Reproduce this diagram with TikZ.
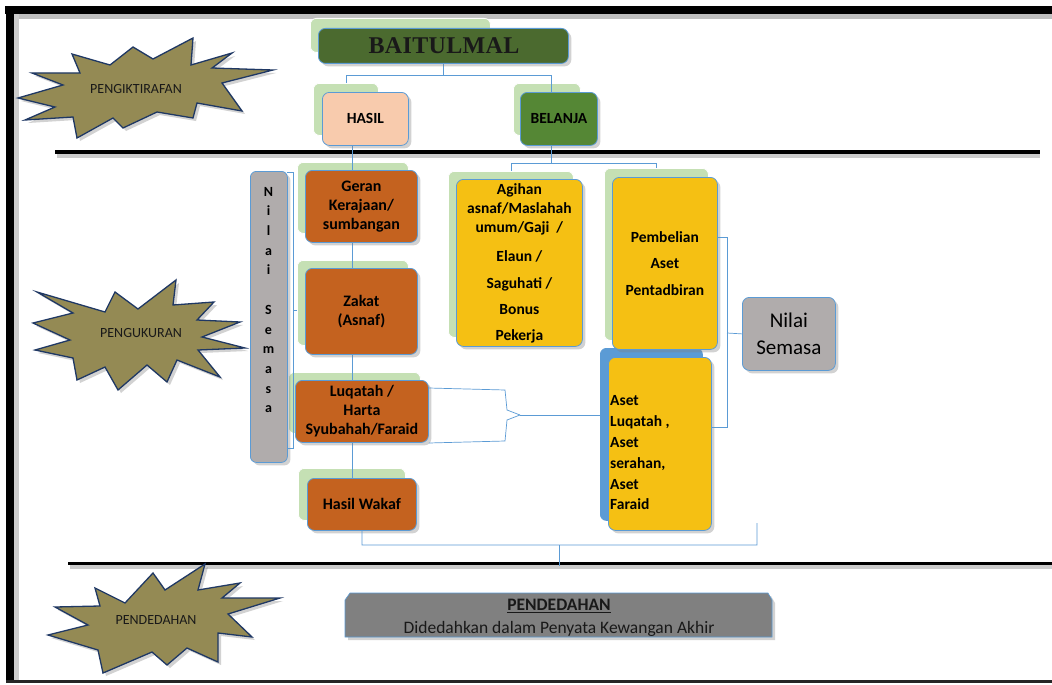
\documentclass[tikz,border=0pt]{standalone}
\usepackage{fontspec}
\setmainfont{Carlito}
\newfontfamily\baitfont[LetterSpace=1.5]{Liberation Serif}
\usetikzlibrary{shadows,calc}
\definecolor{bordblue}{HTML}{5B9BD5}
\definecolor{lgreen}{HTML}{C5E0B4}
\definecolor{orng}{HTML}{C4621F}
\definecolor{yell}{HTML}{F5C013}
\definecolor{greyb}{HTML}{B0ACAC}
\definecolor{darkgr}{HTML}{4B6A2F}
\definecolor{belgr}{HTML}{558735}
\definecolor{peach}{HTML}{F8CBAD}
\definecolor{starfill}{HTML}{948A54}
\definecolor{starline}{HTML}{1F3864}
\definecolor{pendgrey}{HTML}{808080}
\begin{document}
\begin{tikzpicture}[x=1pt,y=-1pt,
  shad/.style={drop shadow={shadow xshift=3pt,shadow yshift=-3pt,opacity=0.35}},
  gbox/.style={fill=lgreen,draw=white,line width=0.8pt,rounded corners=6pt,anchor=north west,inner sep=0pt},
  mbox/.style={draw=bordblue,line width=0.8pt,rounded corners=7pt,anchor=north west,inner sep=0pt,align=center,shad,
     font=\bfseries\fontsize{15.5}{19}\selectfont},
  obox/.style={mbox,fill=orng,font=\bfseries\fontsize{16}{19}\selectfont},
  ybox/.style={mbox,fill=yell},
  conn/.style={draw=bordblue,line width=0.7pt},
  burst/.style={fill=starfill,draw=starline,line width=1.3pt,line join=miter,shad},
  stext/.style={font=\fontsize{14}{15}\selectfont,inner sep=0pt,text=black!90},
  hline/.style={line width=3.5pt,draw=black}
]
\useasboundingbox (0,0) rectangle (1052,685);
\fill[white] (0,0) rectangle (1052,685);

% frame
\fill[black!25] (14,14) rectangle (1052,19);
\fill[black] (5,6) rectangle (1052,14);
\fill[black] (6,6) rectangle (14,683);
\fill[black!20] (14,14) rectangle (19,680);
\fill[black!85] (6,680) rectangle (1052,683);

% separator lines
\draw[line width=4pt,black!20] (57,156) -- (1040,156);
\draw[hline] (55,152) -- (1040,152);
\draw[line width=4pt,black!20] (70,567) -- (1052,567);
\draw[hline,line width=3pt] (68,563) -- (1052,563);

% stars
\draw[burst] (18,98) -- (63,85) -- (32,73) -- (80,73) -- (72,54) -- (110,65) -- (133,47) -- (153,59)
  -- (193,38) -- (191,65) -- (232,53) -- (212,68) -- (273,70) -- (222,83) -- (242,111) -- (197,103)
  -- (193,118) -- (157,112) -- (123,128) -- (113,118) -- (77,138) -- (73,117) -- (25,120) -- (55,107) -- cycle;
\node[stext] (s1) at (136,89) {PENGIKTIRAFAN};

\draw[burst] (37,292) -- (105,312) -- (115,292) -- (138,309) -- (176,280) -- (173,305) -- (214,302)
  -- (197,320) -- (240,322) -- (202,337) -- (245,348) -- (198,350) -- (220,377) -- (177,360) -- (167,382)
  -- (147,365) -- (118,390) -- (105,367) -- (77,380) -- (73,358) -- (35,350) -- (70,340) -- (33,323) -- (73,313) -- cycle;
\node[stext] (s2) at (141,333) {PENGUKURAN};

\draw[burst] (55,607) -- (100,606) -- (95,588) -- (125,603) -- (153,573) -- (165,590) -- (205,564) -- (198,590)
  -- (240,583) -- (222,598) -- (280,598) -- (228,614) -- (252,637) -- (218,633) -- (218,662) -- (187,648)
  -- (167,665) -- (152,652) -- (103,673) -- (98,650) -- (48,635) -- (88,625) -- cycle;
\node[stext] (s3) at (156,620) {PENDEDAHAN};

% back (green) boxes
\node[gbox,minimum width=180,minimum height=34] (baitS) at (310,18) {};
\node[gbox,minimum width=65,minimum height=52] (hasilS) at (313,83) {};
\node[gbox,minimum width=67,minimum height=52] (belS) at (513,83) {};
\node[gbox,minimum width=111,minimum height=71] (geranS) at (297,162) {};
\node[gbox,minimum width=111,minimum height=85] (zakatS) at (297,260) {};
\node[gbox,minimum width=132,minimum height=61] (luqS) at (288,372) {};
\node[gbox,minimum width=107,minimum height=52] (wakafS) at (298,468) {};
\node[gbox,minimum width=125,minimum height=166] (agihS) at (448,171) {};
\node[gbox,minimum width=104,minimum height=172] (pembS) at (604,168) {};
\node[gbox,fill=bordblue,draw=bordblue,minimum width=102,minimum height=172] (asetS) at (600,348) {};

% connectors
\coordinate (bj) at (443,75);
\draw[conn] (443,63) -- (bj);
\draw[conn] (bj) -| (hasilS.north);
\draw[conn] (bj) -| (551,92);
\draw[conn] (352,145) -- (352,478);
\draw[conn] (551,145) -- (551,163) coordinate (bk);
\draw[conn] (bk) -| (agihS.north);
\draw[conn] (bk) -| (pembS.north);

% main boxes
\node[mbox,fill=darkgr,minimum width=250,minimum height=35] (bait) at (318,28) {};
\node[text=black!90,font=\baitfont\bfseries\fontsize{24}{24}\selectfont] (baittext) at (444,46) {BAITULMAL};
\node[mbox,fill=peach,minimum width=86,minimum height=53] (hasil) at (322,92) {HASIL};
\node[mbox,fill=belgr,minimum width=77,minimum height=53] (bel) at (520,92) {BELANJA};

\node[obox,minimum width=112,minimum height=72] (geran) at (305,170) {Geran\\Kerajaan/\\sumbangan};
\node[obox,minimum width=112,minimum height=86] (zakat) at (305,268) {Zakat\\(Asnaf)};
\node[obox,minimum width=133,minimum height=62] (luq) at (295,380) {Luqatah /\\Harta\\Syubahah/Faraid};
\node[obox,minimum width=109,minimum height=52] (wakaf) at (307,478) {Hasil Wakaf};

\node[ybox,minimum width=126,minimum height=167] (agih) at (456,179)
  {Agihan\\asnaf/Maslahah\\umum/Gaji~~/\\[10pt]Elaun /\\[8pt]Saguhati /\\[7pt]Bonus\\[7pt]Pekerja};
\node[ybox,minimum width=105,minimum height=172,font=\bfseries\fontsize{15.5}{26.5}\selectfont] (pemb) at (612,177) {Pembelian\\Aset\\Pentadbiran};
\node[ybox,minimum width=103,minimum height=173] (aset) at (608,357) {};
\node[anchor=west,align=left,inner sep=0pt,font=\bfseries\fontsize{15.5}{20.8}\selectfont] (asettext) at (610,453)
  {Aset\\Luqatah ,\\Aset\\serahan,\\Aset\\Faraid};

% Nilai Semasa (vertical)
\node[mbox,fill=greyb,minimum width=37,minimum height=291,rounded corners=6pt] (nv) at (250,171) {};
\node[align=center,inner sep=0pt,font=\bfseries\fontsize{14}{19.7}\selectfont] (nvtext) at (268.5,300)
  {N\\i\\l\\a\\i\\~\\S\\e\\m\\a\\s\\a};
\draw[conn] (287,172) -- (293,172) -- (293,448) -- (287,448);
\draw[conn] (293,310) -- (zakatS.west |- 0,310);

% Nilai Semasa (box)
\node[mbox,fill=greyb,minimum width=93,minimum height=73,font=\fontsize{21}{27}\selectfont] (nb) at (742,297) {Nilai\\Semasa};
\draw[conn] (pemb.east |- 0,237) -- (727,237) -- (727,427) -- (aset.east |- 0,427);
\draw[conn] (727,333) -- (nb.west);

% Luqatah brace
\coordinate (lq) at (520,415);
\draw[conn] (luq.east |- 0,388) -- (505,390) -- (507,410) -- (lq);
\draw[conn] (luq.east |- 0,443) -- (505,441) -- (507,420) -- (lq);
\draw[conn] (lq) -- (asetS.west |- 0,415);

% bottom brace
\draw[conn] (wakaf.south) -- (362,545) -- (757,545) -- (757,523);
\draw[conn] (559,545) -- (559,566);

% Pendedahan box
\path[fill=pendgrey,draw=bordblue,line width=0.6pt,shad] (345,600) -- (350,593) -- (768,593) -- (772,600) -- (772,637) -- (345,637) -- cycle;
\node[font=\bfseries\fontsize{17.5}{20}\selectfont,inner sep=0pt,text=black!90] (pt) at (559,606) {\underline{PENDEDAHAN}};
\node[font=\fontsize{17.5}{20}\selectfont,inner sep=0pt,text=black!90] (pd) at (559,629) {Didedahkan dalam Penyata Kewangan Akhir};
\end{tikzpicture}
\end{document}
